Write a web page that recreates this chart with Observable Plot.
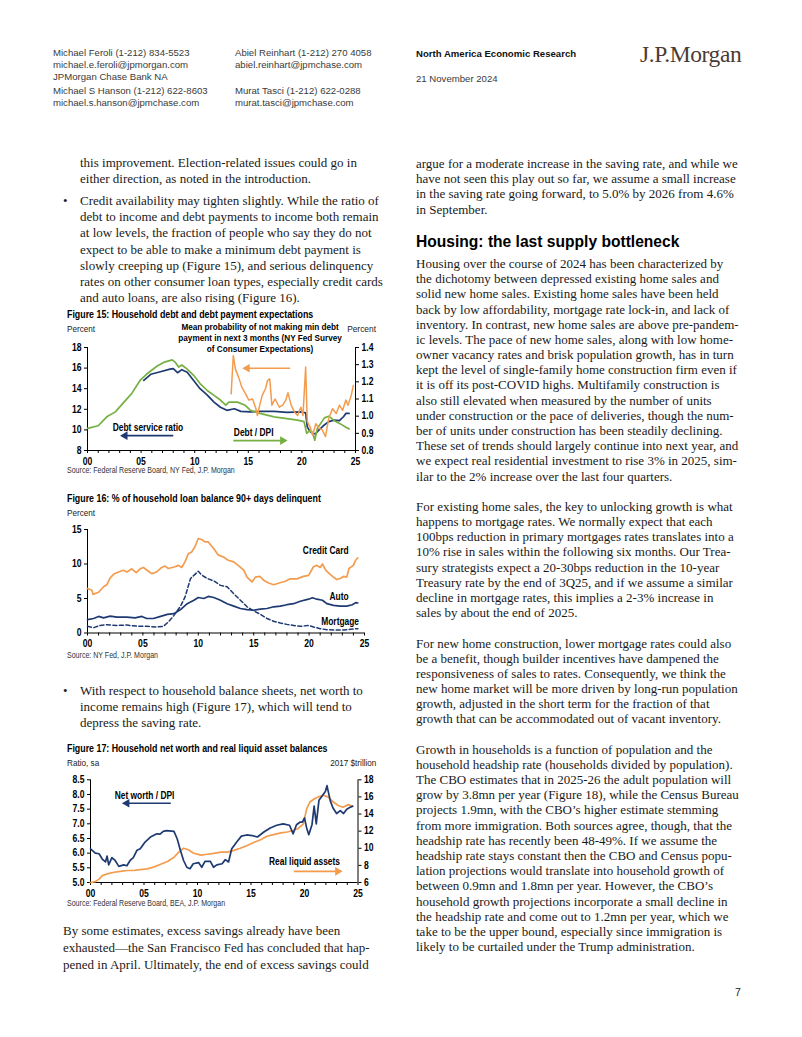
<!DOCTYPE html>
<html><head><meta charset="utf-8">
<script src="https://cdn.jsdelivr.net/npm/d3@7"></script>
<script src="https://cdn.jsdelivr.net/npm/@observablehq/plot@0.6"></script>
<style>
body{margin:0;background:#fff;}
#page{position:relative;width:802px;height:1037px;overflow:hidden;background:#fff;}
.t{position:absolute;white-space:nowrap;}
.body{font-family:"Liberation Serif","Times New Roman",serif;font-size:13px;color:#1a1a1a;line-height:15.2px;height:15.2px;}
.hdr{font-family:"Liberation Sans",Arial,sans-serif;font-size:9.6px;color:#3a3a3a;line-height:12px;}
.nar{font-family:"Liberation Sans",Arial,sans-serif;transform-origin:0 50%;}
.ftitle{font-weight:bold;font-size:10.6px;color:#000;line-height:12px;transform:scaleX(0.835);}
.unit{font-size:9.6px;color:#222;line-height:12px;transform:scaleX(0.85);}
.unitr{font-size:8.4px;color:#222;line-height:12px;}
.src{font-size:8.6px;color:#333;line-height:11px;transform:scaleX(0.82);}
.rt{transform-origin:100% 50%;}
.h2{font-family:"Liberation Sans",Arial,sans-serif;font-weight:bold;font-size:15.6px;color:#000;line-height:20px;}
.chart{position:absolute;}
</style></head>
<body><div id="page"></div>
<script>
// ---------- DATA ----------
// Figure 15 (left axis: percent; right axis: ratio)
const debtServiceRatio = [[2005.25,14.8],[2005.9,15.4],[2006.8,15.65],[2007.7,15.9],[2008.0,15.95],[2008.4,15.55],[2008.8,15.85],[2009.3,15.6],[2009.9,14.8],[2010.5,14.0],[2011.2,13.35],[2011.8,12.7],[2012.4,12.2],[2013.0,11.9],[2013.7,12.05],[2014.3,11.8],[2015.2,11.75],[2016.1,11.8],[2017.4,11.8],[2018.6,11.7],[2019.9,11.75],[2020.35,11.65],[2020.5,10.3],[2020.75,9.85],[2021.0,9.7],[2021.25,9.6],[2021.6,10.0],[2022.0,10.4],[2022.5,10.8],[2023.0,10.95],[2023.5,10.9],[2023.9,11.3],[2024.1,11.6],[2024.4,11.6]];
const debtToDpi = [[2000,0.929],[2001,0.944],[2001.8,0.996],[2002.6,1.025],[2003.4,1.082],[2004.1,1.13],[2004.9,1.208],[2005.5,1.244],[2006.5,1.292],[2007.1,1.313],[2007.9,1.328],[2008.2,1.313],[2008.5,1.286],[2008.8,1.298],[2009.3,1.274],[2009.9,1.238],[2010.5,1.19],[2011.2,1.148],[2011.8,1.121],[2012.4,1.094],[2012.9,1.064],[2013.2,1.082],[2014.0,1.082],[2014.7,1.064],[2015.2,1.034],[2016.1,1.016],[2017.4,0.996],[2018.6,0.986],[2019.6,0.977],[2020.2,0.968],[2020.45,0.9],[2020.7,0.915],[2021.0,0.905],[2021.2,0.86],[2021.45,0.93],[2022.1,0.99],[2022.5,1.0],[2023.0,0.975],[2023.6,0.955],[2024.1,0.935],[2024.4,0.926]];
const minPaymentProb = [[2013.4,13.5],[2013.6,17.2],[2013.8,15.9],[2014.1,15.1],[2014.4,14.15],[2014.75,13.5],[2015.05,12.9],[2015.4,13.0],[2015.7,12.1],[2015.85,11.4],[2016.1,12.55],[2016.3,13.35],[2016.6,14.0],[2016.8,14.8],[2017.0,14.95],[2017.2,12.4],[2017.5,13.0],[2017.9,12.2],[2018.2,12.4],[2018.5,12.9],[2018.7,13.6],[2019.0,12.4],[2019.3,11.75],[2019.6,11.4],[2019.9,12.2],[2020.1,11.4],[2020.35,16.1],[2020.5,10.8],[2020.75,10.3],[2021.0,9.5],[2021.3,10.6],[2021.6,10.15],[2021.9,10.0],[2022.2,9.35],[2022.5,11.1],[2022.85,12.05],[2023.2,11.6],[2023.5,12.4],[2023.8,11.9],[2024.1,12.9],[2024.3,12.4],[2024.6,13.35],[2024.8,14.3]];
const fig15LeftTicks = [8,10,12,14,16,18];
const fig15RightTicks = [0.8,0.9,1.0,1.1,1.2,1.3,1.4];

// Figure 16 (percent)
const creditCard = [[2000,6.44],[2000.4,6.2],[2000.5,5.6],[2001.0,5.9],[2001.45,6.7],[2001.75,7.0],[2002.05,8.0],[2002.35,8.5],[2002.8,8.85],[2003.25,9.1],[2003.55,8.85],[2004.0,9.3],[2004.4,8.75],[2004.75,9.3],[2005.05,9.5],[2005.5,8.95],[2005.8,8.6],[2006.25,8.85],[2006.7,9.5],[2007.0,9.7],[2007.3,9.35],[2007.9,9.6],[2008.2,9.8],[2008.5,9.5],[2008.8,10.3],[2009.1,11.5],[2009.4,11.75],[2009.7,12.5],[2010.0,13.7],[2010.3,13.55],[2010.6,13.2],[2010.9,13.2],[2011.4,12.2],[2011.8,11.3],[2012.3,11.0],[2012.7,10.55],[2013.2,10.3],[2013.6,9.8],[2014.1,9.1],[2014.4,8.1],[2014.85,7.4],[2015.15,8.1],[2015.55,8.2],[2015.9,7.65],[2016.35,7.25],[2016.8,7.0],[2017.3,7.25],[2017.85,7.5],[2018.3,7.85],[2018.9,7.85],[2019.5,8.2],[2019.95,8.35],[2020.4,9.6],[2020.7,9.8],[2021.0,9.5],[2021.2,10.0],[2021.5,9.1],[2021.9,8.5],[2022.2,8.1],[2022.5,7.75],[2022.8,7.9],[2023.1,8.2],[2023.4,8.1],[2023.6,9.35],[2024.0,9.8],[2024.2,10.55],[2024.4,10.9]];
const autoLoans = [[2000,1.93],[2000.55,2.1],[2001.0,2.4],[2001.45,2.2],[2002.05,2.45],[2002.65,2.3],[2003.55,2.3],[2004.3,2.2],[2004.9,2.4],[2005.35,2.1],[2005.95,2.1],[2006.6,2.4],[2007.2,2.7],[2007.8,2.8],[2008.4,3.4],[2009.0,4.25],[2009.6,4.75],[2010.0,5.15],[2010.5,5.0],[2010.9,5.3],[2011.4,5.15],[2012.0,4.75],[2012.6,4.25],[2013.2,3.9],[2013.8,3.55],[2014.4,3.4],[2015.0,3.3],[2015.6,3.45],[2016.2,3.55],[2016.8,3.8],[2017.4,3.9],[2018.0,4.1],[2018.6,4.25],[2019.2,4.6],[2019.95,4.9],[2020.3,5.1],[2020.7,4.9],[2021.2,4.75],[2021.6,4.25],[2022.2,4.0],[2022.8,3.9],[2023.4,3.9],[2023.9,4.1],[2024.2,4.4],[2024.4,4.35]];
const mortgage = [[2000,0.97],[2000.55,0.77],[2001.15,1.1],[2001.75,1.2],[2002.65,1.1],[2003.55,1.15],[2004.45,1.0],[2005.35,0.97],[2006.25,0.87],[2006.85,0.97],[2007.3,1.6],[2007.8,2.55],[2008.4,3.9],[2008.8,5.2],[2009.3,7.9],[2009.7,8.5],[2010.0,8.95],[2010.3,8.4],[2010.8,7.9],[2011.4,7.55],[2012.0,6.9],[2012.6,6.7],[2013.2,5.7],[2013.8,4.75],[2014.4,3.8],[2015.0,3.2],[2015.6,2.7],[2016.2,2.1],[2016.8,1.7],[2017.4,1.45],[2018.0,1.25],[2018.6,1.1],[2019.2,0.97],[2019.95,1.1],[2020.4,0.87],[2021.0,0.63],[2021.6,0.48],[2022.2,0.44],[2023.1,0.44],[2023.7,0.53],[2024.4,0.63]];
const fig16Ticks = [0,5,10,15];

// Figure 17 (left: ratio; right: 2017 $trillion)
const netWorthDpi = [[2000,6.15],[2000.45,6.0],[2000.8,5.98],[2001.1,5.8],[2001.4,5.7],[2001.55,5.9],[2001.7,5.6],[2002.0,5.85],[2002.3,5.75],[2002.65,5.55],[2003.1,5.6],[2003.4,5.57],[2003.7,5.75],[2004.0,5.85],[2004.35,6.1],[2004.65,6.15],[2005.1,6.38],[2005.6,6.55],[2006.2,6.66],[2006.5,6.65],[2006.8,6.74],[2007.1,6.77],[2007.8,6.74],[2008.1,6.49],[2008.4,6.1],[2008.7,5.75],[2009.0,5.52],[2009.3,5.47],[2009.6,5.64],[2010.1,5.68],[2010.4,5.52],[2010.7,5.72],[2011.2,5.72],[2011.5,5.52],[2011.8,5.6],[2012.3,5.64],[2012.6,5.78],[2012.9,5.7],[2013.2,6.15],[2013.7,6.4],[2014.1,6.58],[2014.6,6.62],[2015.1,6.6],[2015.6,6.55],[2016.2,6.72],[2016.8,6.86],[2017.4,6.95],[2018.0,7.0],[2018.6,6.95],[2018.94,6.66],[2019.25,6.97],[2019.6,7.06],[2019.8,7.06],[2020.0,7.2],[2020.2,6.86],[2020.4,6.63],[2020.7,6.97],[2020.9,7.6],[2021.1,7.0],[2021.35,7.8],[2021.65,7.95],[2021.95,8.1],[2022.1,8.3],[2022.4,7.8],[2022.65,7.55],[2023.0,7.35],[2023.35,7.45],[2023.65,7.35],[2023.95,7.5],[2024.3,7.57],[2024.5,7.6]];
const realLiquidAssets = [[2000,6.0],[2000.45,6.1],[2000.8,6.4],[2001.1,6.8],[2001.55,7.0],[2002.2,7.2],[2002.8,7.3],[2003.4,7.4],[2004.0,7.4],[2004.65,7.5],[2005.3,7.6],[2005.9,7.8],[2006.5,8.1],[2007.2,8.45],[2007.8,8.95],[2008.25,9.55],[2008.7,10.0],[2009.2,9.8],[2009.6,9.45],[2010.3,9.2],[2010.9,9.3],[2011.5,9.4],[2012.2,9.55],[2012.8,9.55],[2013.4,9.75],[2014.0,10.0],[2014.6,10.3],[2015.3,10.7],[2015.9,11.0],[2016.5,11.4],[2017.1,11.6],[2017.8,11.8],[2018.4,11.9],[2019.0,12.1],[2019.4,12.3],[2019.9,12.85],[2020.2,14.6],[2020.5,15.4],[2021.0,15.85],[2021.3,16.0],[2021.75,16.2],[2022.2,16.0],[2022.7,15.4],[2023.15,15.0],[2023.6,14.8],[2024.1,15.1],[2024.5,14.9]];
const fig17LeftTicks = [5.0,5.5,6.0,6.5,7.0,7.5,8.0,8.5];
const fig17RightTicks = [6,8,10,12,14,16,18];

const xTickYears = d3.range(2000, 2026);

// ---------- STYLE ----------
const NAVY = "#1f3a72", ORANGE = "#f39c4e", GREEN = "#76b043";
const page = document.getElementById("page");

function addDiv(cls, x, y, txt, extra) {
  const d = document.createElement("div");
  d.className = "t " + cls; d.style.top = y + "px";
  if (cls.includes("rt")) d.style.right = (802 - x) + "px"; else d.style.left = x + "px";
  d.textContent = txt;
  if (extra) Object.assign(d.style, extra);
  page.appendChild(d); return d;
}
function addLines(lines, x, yTop, lh, cls) {
  lines.forEach((s, i) => { if (s) addDiv(cls, x, yTop + i * lh, s, {lineHeight: lh + "px"}); });
}

// ---------- HEADER ----------
addLines(["Michael Feroli  (1-212) 834-5523","michael.e.feroli@jpmorgan.com","JPMorgan Chase Bank NA"], 53, 47, 12, "hdr");
addLines(["Michael S Hanson  (1-212) 622-8603","michael.s.hanson@jpmchase.com"], 53, 85, 12, "hdr");
addLines(["Abiel Reinhart  (1-212) 270 4058","abiel.reinhart@jpmchase.com"], 235, 47, 12, "hdr");
addLines(["Murat Tasci  (1-212) 622-0288","murat.tasci@jpmchase.com"], 235, 85, 12, "hdr");
addDiv("hdr", 416, 48, "North America Economic Research", {fontWeight:"bold", color:"#111"});
addDiv("hdr", 416, 73, "21 November 2024");
addDiv("", 640, 41, "J.P.Morgan", {fontFamily:'"Liberation Serif",serif', fontSize:"23.5px", color:"#4a3b34", letterSpacing:"-0.4px"});

// ---------- LEFT COLUMN TEXT ----------
addLines(["this improvement. Election-related issues could go in","either direction, as noted in the introduction."], 80, 155, 16, "body");
addDiv("body", 63, 193, "•");
addLines(["Credit availability may tighten slightly. While the ratio of","debt to income and debt payments to income both remain","at low levels, the fraction of people who say they do not","expect to be able to make a minimum debt payment is","slowly creeping up (Figure 15), and serious delinquency","rates on other consumer loan types, especially credit cards","and auto loans, are also rising (Figure 16)."], 80, 193, 16.2, "body");
addDiv("body", 63, 683, "•");
addLines(["With respect to household balance sheets, net worth to","income remains high (Figure 17), which will tend to","depress the saving rate."], 80, 683, 16.2, "body");
addLines(["By some estimates, excess savings already have been","exhausted\u2014the San Francisco Fed has concluded that hap-","pened in April. Ultimately, the end of excess savings could"], 63, 923, 16.8, "body");

// ---------- RIGHT COLUMN TEXT ----------
addLines(["argue for a moderate increase in the saving rate, and while we","have not seen this play out so far, we assume a small increase","in the saving rate going forward, to 5.0% by 2026 from 4.6%","in September."], 416, 156, 15.2, "body");
addDiv("h2", 416, 232, "Housing: the last supply bottleneck");
addLines([
"Housing over the course of 2024 has been characterized by",
"the dichotomy between depressed existing home sales and",
"solid new home sales. Existing home sales have been held",
"back by low affordability, mortgage rate lock-in, and lack of",
"inventory. In contrast, new home sales are above pre-pandem-",
"ic levels. The pace of new home sales, along with low home-",
"owner vacancy rates and brisk population growth, has in turn",
"kept the level of single-family home construction firm even if",
"it is off its post-COVID highs. Multifamily construction is",
"also still elevated when measured by the number of units",
"under construction or the pace of deliveries, though the num-",
"ber of units under construction has been steadily declining.",
"These set of trends should largely continue into next year, and",
"we expect real residential investment to rise 3% in 2025, sim-",
"ilar to the 2% increase over the last four quarters.",
"",
"For existing home sales, the key to unlocking growth is what",
"happens to mortgage rates. We normally expect that each",
"100bps reduction in primary mortgages rates translates into a",
"10% rise in sales within the following six months. Our Trea-",
"sury strategists expect a 20-30bps reduction in the 10-year",
"Treasury rate by the end of 3Q25, and if we assume a similar",
"decline in mortgage rates, this implies a 2-3% increase in",
"sales by about the end of 2025.",
"",
"For new home construction, lower mortgage rates could also",
"be a benefit, though builder incentives have dampened the",
"responsiveness of sales to rates. Consequently, we think the",
"new home market will be more driven by long-run population",
"growth, adjusted in the short term for the fraction of that",
"growth that can be accommodated out of vacant inventory.",
"",
"Growth in households is a function of population and the",
"household headship rate (households divided by population).",
"The CBO estimates that in 2025-26 the adult population will",
"grow by 3.8mn per year (Figure 18), while the Census Bureau",
"projects 1.9mn, with the CBO\u2019s higher estimate stemming",
"from more immigration. Both sources agree, though, that the",
"headship rate has recently been 48-49%. If we assume the",
"headship rate stays constant then the CBO and Census popu-",
"lation projections would translate into household growth of",
"between 0.9mn and 1.8mn per year. However, the CBO\u2019s",
"household growth projections incorporate a small decline in",
"the headship rate and come out to 1.2mn per year, which we",
"take to be the upper bound, especially since immigration is",
"likely to be curtailed under the Trump administration."
], 416, 256, 15.18, "body");
addDiv("body", 735, 985, "7", {fontFamily:'"Liberation Sans",Arial,sans-serif', fontSize:"10.5px"});

// ---------- FIGURE TITLES / UNITS / SOURCES ----------
addDiv("nar ftitle", 67, 308, "Figure 15: Household debt and debt payment expectations");
addDiv("nar unit", 67, 323, "Percent");
addDiv("nar unitr rt", 376, 323, "Percent");
addDiv("nar src", 67, 465, "Source: Federal Reserve Board, NY Fed, J.P. Morgan");
addDiv("nar ftitle", 67, 492, "Figure 16: % of household loan balance 90+ days delinquent");
addDiv("nar unit", 67, 507, "Percent");
addDiv("nar src", 67, 650, "Source: NY Fed, J.P. Morgan");
addDiv("nar ftitle", 67, 742, "Figure 17: Household net worth and real liquid asset balances");
addDiv("nar unit", 67, 757, "Ratio, sa");
addDiv("nar unit rt", 376, 757, "2017 $trillion");
addDiv("nar src", 67, 898, "Source: Federal Reserve Board, BEA, J.P. Morgan");

// ---------- CHART HELPERS ----------
const rows = arr => arr.map(([year, value]) => ({year, value}));
function condense(svg) {
  svg.querySelectorAll("text").forEach(t => {
    if (t.closest(".plain")) return;
    const f = t.closest(".anno") ? 0.84 : 0.86;
    const parts = t.querySelectorAll("tspan");
    (parts.length ? Array.from(parts) : [t]).forEach(el => {
      const w = el.getComputedTextLength();
      if (w > 0) { el.setAttribute("textLength", (w * f).toFixed(2)); el.setAttribute("lengthAdjust", "spacingAndGlyphs"); }
    });
  });
}
function place(svg, left, top) {
  const w = document.createElement("div"); w.className = "chart";
  w.style.left = left + "px"; w.style.top = top + "px";
  w.appendChild(svg); page.appendChild(w); condense(svg);
}
const yr2 = d => (d % 5 === 0 ? String(d).slice(2) : "");
function arrowMarks(a, color) {
  return [
    Plot.link([a], {x1: "x1", y1: "y", x2: "x2", y2: "y", stroke: color, strokeWidth: 1.6}),
    Plot.dot([a], {x: "x2", y: "y", symbol: "triangle", r: 3.2, fill: color, stroke: "none", rotate: a.dir === "left" ? -90 : 90})
  ];
}
const common = {width: 330, height: 135, style: {fontFamily: '"Liberation Sans",Arial,sans-serif', fontSize: "10px", fontWeight: "bold", color: "#000", background: "transparent", overflow: "visible"}};

// ---------- FIGURE 15 ----------
const toL15 = r => 8 + (r - 0.8) / 0.06;
const fromL15 = l => 0.8 + (l - 8) * 0.06;
const fig15Note = [
  {x: 2016.1, y: 19.95, text: "Mean probability of not making min debt"},
  {x: 2016.1, y: 18.9, text: "payment in next 3 months (NY Fed Survey"},
  {x: 2016.1, y: 17.85, text: "of Consumer Expectations)"}
];
const fig15Labels = [
  {x: 2005.64, y: 10.2, text: "Debt service ratio"},
  {x: 2015.5, y: 9.73, text: "Debt / DPI"}
];
const fig15Arrows = [
  {x1: 2018.9, x2: 2014.9, y: 15.98, dir: "left", c: ORANGE},
  {x1: 2008.0, x2: 2003.5, y: 9.44, dir: "left", c: NAVY},
  {x1: 2013.6, x2: 2018.2, y: 8.96, dir: "right", c: GREEN}
];
place(Plot.plot({
  ...common, marginLeft: 32, marginRight: 30, marginTop: 11, marginBottom: 21,
  x: {domain: [2000, 2025]}, y: {domain: [8, 18]},
  marks: [
    Plot.axisY({ticks: fig15LeftTicks, tickSize: 3, tickPadding: 3, tickFormat: d => d}),
    Plot.axisY({anchor: "right", ticks: fig15RightTicks.map(toL15), tickSize: 3, tickPadding: 3, tickFormat: d => fromL15(d).toFixed(1)}),
    Plot.axisX({ticks: xTickYears, tickSize: 3, tickPadding: 4, tickFormat: yr2}),
    Plot.ruleX([2000, 2025], {stroke: "#000"}),
    Plot.ruleY([8], {stroke: "#000"}),
    Plot.line(rows(debtServiceRatio), {x: "year", y: "value", stroke: NAVY, strokeWidth: 1.7}),
    Plot.line(rows(debtToDpi), {x: "year", y: d => toL15(d.value), stroke: GREEN, strokeWidth: 1.7}),
    Plot.line(rows(minPaymentProb), {x: "year", y: "value", stroke: ORANGE, strokeWidth: 1.5}),
    Plot.text(fig15Note, {x: "x", y: "y", text: "text", fill: "#000", fontSize: 8.2, className: "plain"}),
    Plot.text(fig15Labels, {x: "x", y: "y", text: "text", fill: "#000", fontSize: 10, className: "anno"}),
    ...fig15Arrows.flatMap(a => arrowMarks(a, a.c))
  ]
}), 55, 336);

// ---------- FIGURE 16 ----------
const fig16Labels = [
  {x: 2021.5, y: 11.85, text: "Credit Card"},
  {x: 2022.7, y: 5.3, text: "Auto"},
  {x: 2022.8, y: 1.67, text: "Mortgage"}
];
place(Plot.plot({
  ...common, marginLeft: 32, marginRight: 21, marginTop: 11, marginBottom: 20.5,
  x: {domain: [2000, 2025]}, y: {domain: [0, 15]},
  marks: [
    Plot.axisY({ticks: fig16Ticks, tickSize: 3, tickPadding: 3, tickFormat: d => d}),
    Plot.axisX({ticks: xTickYears, tickSize: 3, tickPadding: 4, tickFormat: yr2}),
    Plot.ruleX([2000], {stroke: "#000"}),
    Plot.ruleY([0], {stroke: "#000"}),
    Plot.line(rows(mortgage), {x: "year", y: "value", stroke: NAVY, strokeWidth: 1.5, strokeDasharray: "4,2.5"}),
    Plot.line(rows(autoLoans), {x: "year", y: "value", stroke: NAVY, strokeWidth: 1.7}),
    Plot.line(rows(creditCard), {x: "year", y: "value", stroke: ORANGE, strokeWidth: 1.7}),
    Plot.text(fig16Labels, {x: "x", y: "y", text: "text", fill: "#000", fontSize: 10, className: "anno"})
  ]
}), 55, 518);

// ---------- FIGURE 17 ----------
const toL17 = r => 5 + (r - 6) * 3.5 / 12;
const fromL17 = l => 6 + (l - 5) * 12 / 3.5;
const fig17Labels = [
  {x: 2005.05, y: 7.97, text: "Net worth / DPI"},
  {x: 2020.0, y: 5.69, text: "Real liquid assets"}
];
const fig17Arrows = [
  {x1: 2007.5, x2: 2003.4, y: 7.7, dir: "left", c: NAVY},
  {x1: 2019.0, x2: 2023.1, y: 5.38, dir: "right", c: ORANGE}
];
place(Plot.plot({
  ...common, marginLeft: 35, marginRight: 27.5, marginTop: 11.3, marginBottom: 21,
  x: {domain: [2000, 2025]}, y: {domain: [5, 8.5]},
  marks: [
    Plot.axisY({ticks: fig17LeftTicks, tickSize: 3, tickPadding: 3, tickFormat: d => d.toFixed(1)}),
    Plot.axisY({anchor: "right", ticks: fig17RightTicks.map(toL17), tickSize: 3, tickPadding: 3, tickFormat: d => Math.round(fromL17(d))}),
    Plot.axisX({ticks: xTickYears, tickSize: 3, tickPadding: 4, tickFormat: yr2}),
    Plot.ruleX([2000, 2025], {stroke: "#000"}),
    Plot.ruleY([5], {stroke: "#000"}),
    Plot.line(rows(realLiquidAssets), {x: "year", y: d => toL17(d.value), stroke: ORANGE, strokeWidth: 1.7}),
    Plot.line(rows(netWorthDpi), {x: "year", y: "value", stroke: NAVY, strokeWidth: 1.7}),
    Plot.text(fig17Labels, {x: "x", y: "y", text: "text", fill: "#000", fontSize: 10, className: "anno"}),
    ...fig17Arrows.flatMap(a => arrowMarks(a, a.c))
  ]
}), 55, 768);
</script>
</body></html>
